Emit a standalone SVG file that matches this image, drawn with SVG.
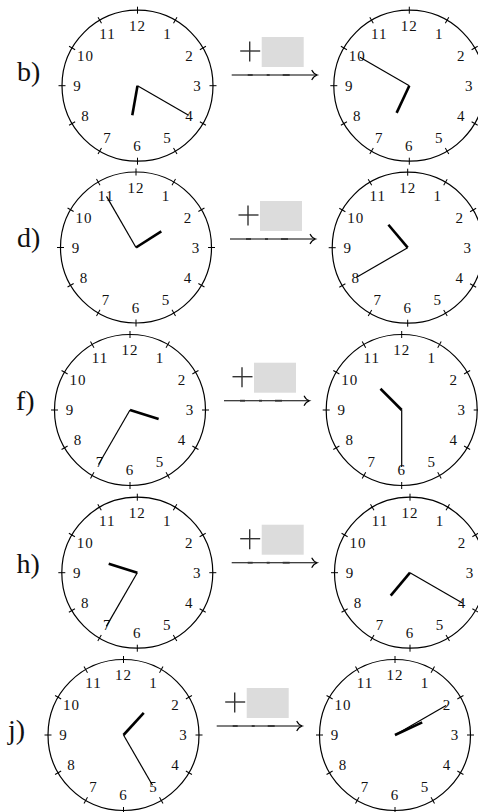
<svg xmlns="http://www.w3.org/2000/svg" xmlns:xlink="http://www.w3.org/1999/xlink" width="478" height="812" viewBox="0 0 478 812">
<style>
.face{fill:#fff;stroke:#000;stroke-width:1.2}
.tick{stroke:#000;stroke-width:1}
.num{font-family:"Liberation Serif","DejaVu Serif",serif;font-size:15px;text-anchor:middle;letter-spacing:1px;fill:#111}
.lbl{font-family:"Liberation Serif","DejaVu Serif",serif;font-size:28px;fill:#111}
.hour{stroke:#000;stroke-width:2.6;stroke-linecap:butt}
.min{stroke:#000;stroke-width:1.2;stroke-linecap:butt}
.arr{stroke:#000;stroke-width:1.1;fill:none}
.dash{stroke:#333;stroke-width:1.8}
.plus{stroke:#333;stroke-width:1.4}
.box{fill:#dcdcdc}
</style>
<defs>
<g id="face">
<circle class="face" cx="0" cy="0" r="75.5"/>
<g class="tick">
<line x1="0" y1="-72" x2="0" y2="-79"/>
<line x1="0" y1="-72" x2="0" y2="-79" transform="rotate(30)"/>
<line x1="0" y1="-72" x2="0" y2="-79" transform="rotate(60)"/>
<line x1="0" y1="-72" x2="0" y2="-79" transform="rotate(90)"/>
<line x1="0" y1="-72" x2="0" y2="-79" transform="rotate(120)"/>
<line x1="0" y1="-72" x2="0" y2="-79" transform="rotate(150)"/>
<line x1="0" y1="-72" x2="0" y2="-79" transform="rotate(180)"/>
<line x1="0" y1="-72" x2="0" y2="-79" transform="rotate(210)"/>
<line x1="0" y1="-72" x2="0" y2="-79" transform="rotate(240)"/>
<line x1="0" y1="-72" x2="0" y2="-79" transform="rotate(270)"/>
<line x1="0" y1="-72" x2="0" y2="-79" transform="rotate(300)"/>
<line x1="0" y1="-72" x2="0" y2="-79" transform="rotate(330)"/>
</g>
<g class="num">
<text x="30" y="-47">1</text>
<text x="52" y="-25">2</text>
<text x="60" y="5">3</text>
<text x="52" y="35">4</text>
<text x="30" y="57">5</text>
<text x="0" y="65">6</text>
<text x="-30" y="57">7</text>
<text x="-52" y="35">8</text>
<text x="-60" y="5">9</text>
<text x="-52" y="-25">10</text>
<text x="-30" y="-47">11</text>
<text x="0" y="-55">12</text>
</g>
</g>
<g id="arrow">
<line class="arr" x1="0" y1="0" x2="85" y2="0"/>
<line class="dash" x1="16" y1="0" x2="21" y2="0"/>
<line class="dash" x1="35" y1="0" x2="38" y2="0"/>
<line class="dash" x1="51" y1="0" x2="58" y2="0"/>
<path class="arr" d="M80,-5 Q82,-1 85.5,0 Q82,1 80,5"/>
<line class="plus" x1="8.5" y1="-24" x2="28.5" y2="-24"/>
<line class="plus" x1="18" y1="-33.5" x2="18" y2="-13.5"/>
<rect class="box" x="30" y="-38" width="42" height="30"/>
</g>
</defs>

<g id="label-b"><text class="lbl" x="17" y="80.5">b)</text></g>
<g id="clock-b-left" transform="translate(137.5,85.7)">
<use href="#face"/>
<line class="hour" x1="0" y1="0" x2="0" y2="-30" transform="rotate(190)"/>
<line class="min" x1="0" y1="0" x2="0" y2="-59" transform="rotate(120)"/>
</g>
<g id="clock-b-right" transform="translate(409.3,85.7)">
<use href="#face"/>
<line class="hour" x1="0" y1="0" x2="0" y2="-30" transform="rotate(205)"/>
<line class="min" x1="0" y1="0" x2="0" y2="-57" transform="rotate(300)"/>
</g>

<g id="label-d"><text class="lbl" x="17" y="247">d)</text></g>
<g id="clock-d-left" transform="translate(136,247.5)">
<use href="#face"/>
<line class="hour" x1="0" y1="0" x2="0" y2="-30" transform="rotate(57.5)"/>
<line class="min" x1="0" y1="0" x2="0" y2="-59" transform="rotate(330)"/>
</g>
<g id="clock-d-right" transform="translate(407.7,247.7)">
<use href="#face"/>
<line class="hour" x1="0" y1="0" x2="0" y2="-30" transform="rotate(320)"/>
<line class="min" x1="0" y1="0" x2="0" y2="-59" transform="rotate(240)"/>
</g>

<g id="label-f"><text class="lbl" x="16" y="410">f)</text></g>
<g id="clock-f-left" transform="translate(130,410)">
<use href="#face"/>
<line class="hour" x1="0" y1="0" x2="0" y2="-30" transform="rotate(107.5)"/>
<line class="min" x1="0" y1="0" x2="0" y2="-63" transform="rotate(210)"/>
</g>
<g id="clock-f-right" transform="translate(401.7,410)">
<use href="#face"/>
<line class="hour" x1="0" y1="0" x2="0" y2="-30" transform="rotate(315)"/>
<line class="min" x1="0" y1="0" x2="0" y2="-57" transform="rotate(180)"/>
</g>

<g id="label-h"><text class="lbl" x="16.5" y="573">h)</text></g>
<g id="clock-h-left" transform="translate(137.3,572.7)">
<use href="#face"/>
<line class="hour" x1="0" y1="0" x2="0" y2="-30" transform="rotate(287.5)"/>
<line class="min" x1="0" y1="0" x2="0" y2="-62" transform="rotate(210)"/>
</g>
<g id="clock-h-right" transform="translate(410,572.7)">
<use href="#face"/>
<line class="hour" x1="0" y1="0" x2="0" y2="-30" transform="rotate(220)"/>
<line class="min" x1="0" y1="0" x2="0" y2="-61" transform="rotate(120)"/>
</g>

<g id="label-j"><text class="lbl" x="8" y="739">j)</text></g>
<g id="clock-j-left" transform="translate(123.5,735)">
<use href="#face"/>
<line class="hour" x1="0" y1="0" x2="0" y2="-30" transform="rotate(42.5)"/>
<line class="min" x1="0" y1="0" x2="0" y2="-58" transform="rotate(150)"/>
</g>
<g id="clock-j-right" transform="translate(395,735)">
<use href="#face"/>
<line class="hour" x1="0" y1="0" x2="0" y2="-30" transform="rotate(65)"/>
<line class="min" x1="0" y1="0" x2="0" y2="-59" transform="rotate(60)"/>
</g>

<g id="connectors">
<use href="#arrow" transform="translate(231.7,75)"/>
<use href="#arrow" transform="translate(230,239)"/>
<use href="#arrow" transform="translate(224,400.7)"/>
<use href="#arrow" transform="translate(231.7,562.7)"/>
<use href="#arrow" transform="translate(216.7,726)"/>
</g>
</svg>
